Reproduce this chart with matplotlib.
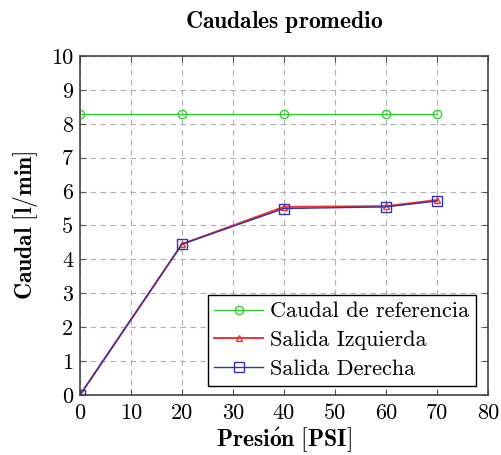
import matplotlib
matplotlib.use("Agg")
import matplotlib.pyplot as plt

presion = [0, 20, 40, 60, 70]
caudal_ref = [8.3, 8.3, 8.3, 8.3, 8.3]
salida_izq = [0, 4.45, 5.55, 5.57, 5.75]
salida_der = [0, 4.45, 5.5, 5.55, 5.72]

plt.rcParams['font.family'] = ['cmr10', 'DejaVu Serif']
plt.rcParams['mathtext.fontset'] = 'cm'
plt.rcParams['axes.unicode_minus'] = False

fig = plt.figure(figsize=(5.01, 4.55), dpi=100)
ax = fig.add_axes([0.1597, 0.1319, 0.814, 0.745])

ax.plot(presion, caudal_ref, color='#33cc33', marker='o', markersize=6,
        markerfacecolor='none', lw=1.0, label='Caudal de referencia')
ax.plot(presion, salida_izq, color='#ee3333', marker='^', markersize=4,
        markerfacecolor='none', lw=1.4, label='Salida Izquierda')
ax.plot(presion, salida_der, color='#3333aa', marker='s', markersize=7,
        markerfacecolor='none', lw=1.0, label='Salida Derecha')

ax.set_xlim(0, 80)
ax.set_ylim(0, 10)
ax.set_xticks(range(0, 81, 10))
ax.set_yticks(range(0, 11))
ax.grid(True, ls=(0, (5, 4)), color='#b0b0b0', lw=0.8)
ax.tick_params(direction='in', top=True, right=True, labelsize=16, length=4,
               color='#555555')
ax.tick_params(axis='x', pad=6)
ax.tick_params(axis='y', pad=5)
for s in ax.spines.values():
    s.set_color('#444444')
    s.set_linewidth(1.2)

ax.set_title(r'$\mathbf{Caudales\ promedio}$', fontsize=17, pad=20)
ax.set_xlabel(r'$\mathbf{Presi\acute{o}n\ [PSI]}$', fontsize=17, labelpad=2)
ax.set_ylabel(r'$\mathbf{Caudal\ [l/min]}$', fontsize=17, labelpad=8)

leg = ax.legend(loc='lower right', bbox_to_anchor=(0.97, 0.027), fontsize=16,
                fancybox=False, framealpha=1, edgecolor='black',
                borderaxespad=0, handlelength=2.2, labelspacing=0.42,
                borderpad=0.3, handletextpad=0.3)
leg.get_frame().set_linewidth(1.0)

fig.savefig('out.png', dpi=100)
